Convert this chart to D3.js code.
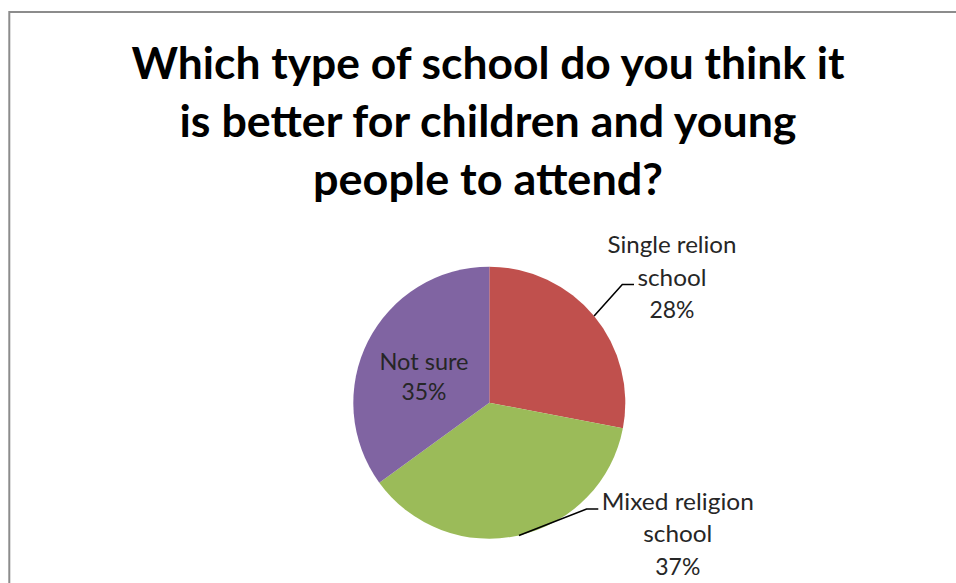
<!DOCTYPE html>
<html>
<head>
<meta charset="utf-8">
<script src="https://cdn.jsdelivr.net/npm/d3@7"></script>
<style>
  html, body { margin: 0; padding: 0; background: #ffffff; }
  svg { display: block; }
  text { font-family: Lato, "Open Sans", "DejaVu Sans", sans-serif; }
</style>
</head>
<body>
<svg id="chart" width="956" height="583"></svg>
<script>
// Survey answers
const categories = ["Single relion school", "Mixed religion school", "Not sure"];
const values = [28, 37, 35];
const labelLines = [
  ["Single relion", "school", "28%"],
  ["Mixed religion", "school", "37%"],
  ["Not sure", "35%"]
];
const titleLines = [
  "Which type of school do you think it",
  "is better for children and young",
  "people to attend?"
];
const colors = ["#C0504D", "#9BBB59", "#8064A2"];

// Layout
const W = 956, H = 583;
const cx = 489.3, cy = 402.7, radius = 136;
const titleWidths = [713, 617, 350];
const titleBaselines = [79, 137, 195];
// label block: centre x offset, first baseline offset (from pie centre), line step,
// natural widths of each line, and which line the leader attaches to (-1 = none)
const labelLayout = [
  { dx: 182.7, dy: -149.7, step: 32.5, widths: [129, 69, 45], attach: 1 },
  { dx: 188.5, dy: 107.3, step: 32.5, widths: [152, 69, 45], attach: 0 },
  { dx: -65.3, dy: -32.7, step: 30, widths: [89, 45], attach: -1 }
];

const svg = d3.select("#chart");

// chart frame
svg.append("rect")
  .attr("x", 9.3).attr("y", 12)
  .attr("width", 1200).attr("height", 1200)
  .attr("fill", "none")
  .attr("stroke", "#8c8c8c")
  .attr("stroke-width", 2);

// title
svg.append("g").selectAll("text")
  .data(titleLines)
  .join("text")
  .attr("x", 488)
  .attr("y", (d, i) => titleBaselines[i])
  .attr("text-anchor", "middle")
  .attr("font-size", 43)
  .attr("font-weight", 700)
  .attr("fill", "#000")
  .attr("textLength", (d, i) => titleWidths[i])
  .attr("lengthAdjust", "spacingAndGlyphs")
  .text(d => d);

// pie
const pie = d3.pie().sort(null).value(d => d)(values);
const arc = d3.arc().innerRadius(0).outerRadius(radius);
const edge = d3.arc().innerRadius(radius).outerRadius(radius);

const g = svg.append("g").attr("transform", `translate(${cx},${cy})`);

g.selectAll("path.slice")
  .data(pie)
  .join("path")
  .attr("class", "slice")
  .attr("d", arc)
  .attr("fill", (d, i) => colors[i]);

// data labels
pie.forEach((p, i) => {
  const L = labelLayout[i];
  const lines = labelLines[i];
  const lg = g.append("g");
  lines.forEach((t, j) => {
    lg.append("text")
      .attr("x", L.dx)
      .attr("y", L.dy + j * L.step)
      .attr("text-anchor", "middle")
      .attr("font-size", 22.5)
      .attr("fill", "#262626")
      .attr("textLength", L.widths[j])
      .attr("lengthAdjust", "spacingAndGlyphs")
      .text(t);
  });
  if (L.attach >= 0) {
    const a = (p.startAngle + p.endAngle) / 2;
    const sx = Math.sin(a) * radius, sy = -Math.cos(a) * radius;
    const ex = L.dx - L.widths[L.attach] / 2 - 3.5;
    const ey = L.dy + L.attach * L.step - 1;
    const kx = ex - 11.7;
    g.append("path")
      .attr("d", `M${sx},${sy}L${kx},${ey}L${ex},${ey}`)
      .attr("fill", "none")
      .attr("stroke", "#000")
      .attr("stroke-width", 1.6);
  }
});
</script>
</body>
</html>
